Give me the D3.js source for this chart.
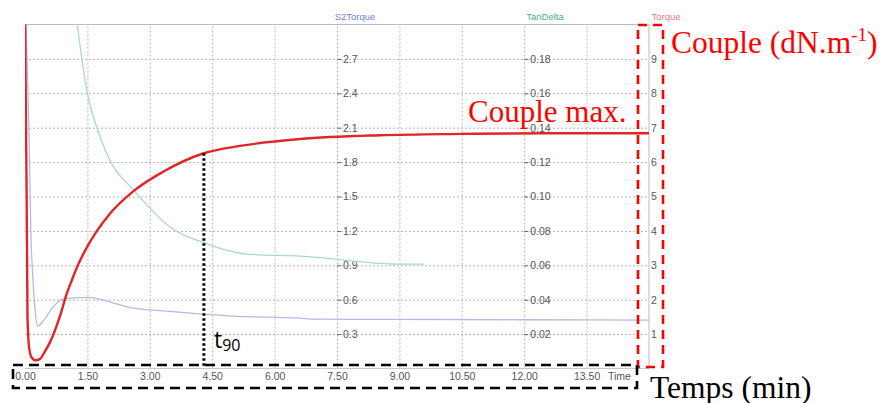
<!DOCTYPE html>
<html><head><meta charset="utf-8">
<script src="https://cdn.jsdelivr.net/npm/d3@7/dist/d3.min.js"></script>
<style>body{margin:0;background:#fff}svg{display:block}</style>
</head><body>
<svg id="c" width="884" height="403"></svg>
<script>
// ---- data ----
const timeTicks = [0, 1.5, 3, 4.5, 6, 7.5, 9, 10.5, 12, 13.5];
const torqueTicks = [1, 2, 3, 4, 5, 6, 7, 8, 9];
const s2Ticks = [0.3, 0.6, 0.9, 1.2, 1.5, 1.8, 2.1, 2.4, 2.7];
const tanTicks = [0.02, 0.04, 0.06, 0.08, 0.10, 0.12, 0.14, 0.16, 0.18];
const torqueT = [0.0, 0.04, 0.06, 0.1, 0.16, 0.25, 0.36, 0.48, 0.6, 0.84, 1.0, 1.13, 1.27, 1.5, 1.73, 2.04, 2.6, 3.32, 4.28, 5.17, 6.61, 8.53, 10.5, 12.5, 15];
const torqueV = [10.3, 5.0, 1.5, 0.6, 0.32, 0.24, 0.28, 0.5, 0.76, 1.52, 2.16, 2.58, 3.0, 3.55, 4.0, 4.5, 5.15, 5.72, 6.25, 6.47, 6.67, 6.78, 6.82, 6.84, 6.84];
const s2T = [0.02, 0.1, 0.14, 0.19, 0.25, 0.31, 0.45, 0.67, 0.91, 1.49, 2.6, 3.4, 4.28, 5.0, 6.6, 7.0, 9, 12, 15];
const s2V = [3.1, 2.0, 1.2, 0.78, 0.48, 0.37, 0.42, 0.535, 0.605, 0.62, 0.527, 0.50, 0.475, 0.457, 0.44, 0.43, 0.428, 0.425, 0.422];
const tanT = [1.2, 1.25, 1.49, 1.8, 2.04, 2.6, 3.56, 4.2, 5.34, 6.6, 9.0, 9.6];
const tanV = [0.21, 0.2008, 0.161, 0.135, 0.121, 0.104, 0.081, 0.074, 0.0665, 0.0653, 0.0607, 0.0607];
const t90 = 4.3;

// ---- layout ----
const svg = d3.select("#c");
const L = 25, R = 649, T = 24.5, B = 368.5;
const x = d3.scaleLinear().domain([0, 15]).range([L, R]);
const yT = d3.scaleLinear().domain([0, 10]).range([B, T]);
const yS = d3.scaleLinear().domain([0, 3]).range([B, T]);
const yD = d3.scaleLinear().domain([0, 0.2]).range([B, T]);

svg.append("rect").attr("width", 884).attr("height", 403).attr("fill", "#fff");
svg.append("clipPath").attr("id", "clip").append("rect")
  .attr("x", L).attr("y", T).attr("width", R - L).attr("height", B - T);

// grid
const gx = svg.append("g").attr("transform", `translate(0,${B})`)
  .call(d3.axisBottom(x).tickValues(timeTicks.slice(1)).tickSize(-(B - T)).tickFormat(""));
const gy = svg.append("g").attr("transform", `translate(${L},0)`)
  .call(d3.axisLeft(yT).tickValues(torqueTicks).tickSize(-(R - L)).tickFormat(""));
[gx, gy].forEach(g => {
  g.select(".domain").remove();
  g.selectAll(".tick line").attr("stroke", "#b4b4b4").attr("stroke-dasharray", "2,2").attr("stroke-width", 1);
});

// border
svg.append("line").attr("x1", L).attr("x2", R).attr("y1", T).attr("y2", T).attr("stroke", "#b9b9d4").attr("stroke-width", 1.2);
svg.append("line").attr("x1", R).attr("x2", R).attr("y1", T).attr("y2", B).attr("stroke", "#c8c8c8").attr("stroke-width", 1.2);
svg.append("line").attr("x1", L).attr("x2", R).attr("y1", B).attr("y2", B).attr("stroke", "#c8c8c8").attr("stroke-width", 1.2);

const tickFont = g => g.selectAll("text").attr("font-family", "Liberation Sans, Arial, sans-serif").attr("font-size", 10.5).attr("fill", "#555");

// x axis labels
const ax = svg.append("g").attr("transform", `translate(0,${B})`)
  .call(d3.axisBottom(x).tickValues(timeTicks).tickSize(0).tickPadding(4).tickFormat(d3.format(".2f")));
ax.select(".domain").remove();
tickFont(ax);
svg.append("text").attr("x", 608).attr("y", 380).text("Time")
  .attr("font-family", "Liberation Sans, Arial, sans-serif").attr("font-size", 10.5).attr("fill", "#555");

// inner axes
function innerAxis(scale, ticks, xpos, fmt) {
  const g = svg.append("g").attr("transform", `translate(${xpos},0)`)
    .call(d3.axisRight(scale).tickValues(ticks).tickSize(4).tickPadding(2).tickFormat(fmt));
  g.select(".domain").remove();
  g.selectAll(".tick line").attr("stroke", "#666");
  tickFont(g);
  return g;
}
innerAxis(yS, s2Ticks, x(7.5), d3.format(".1f"));
innerAxis(yD, tanTicks, x(12), d3.format(".2f"));
const gr = svg.append("g").attr("transform", `translate(${R},0)`)
  .call(d3.axisRight(yT).tickValues(torqueTicks).tickSize(0).tickPadding(2).tickFormat(d3.format("d")));
gr.select(".domain").remove();
tickFont(gr);

// series titles
const titles = [["S2Torque", 355, "#6f82cc"], ["TanDelta", 545, "#4dae88"], ["Torque", 666, "#e07888"]];
titles.forEach(([t, cx, c]) => svg.append("text").attr("x", cx).attr("y", 20).attr("text-anchor", "middle")
  .attr("font-family", "Liberation Sans, Arial, sans-serif").attr("font-size", 9.5).attr("fill", c).text(t));

// curves
const plot = svg.append("g").attr("clip-path", "url(#clip)");
function curve(ts, vs, ys, color, w) {
  const pts = ts.map((t, i) => [t, vs[i]]);
  plot.append("path").datum(pts)
    .attr("d", d3.line().x(d => x(d[0])).y(d => ys(d[1])).curve(d3.curveMonotoneX))
    .attr("fill", "none").attr("stroke", color).attr("stroke-width", w);
}
curve(tanT, tanV, yD, "#a9d9c6", 1.3);
curve(s2T, s2V, yS, "#b3bbe2", 1.3);
curve(torqueT, torqueV, yT, "#e0262b", 2.4);

// t90 marker
const i90 = d3.bisectLeft(torqueT, t90);
const v90 = d3.interpolateNumber(torqueV[i90 - 1], torqueV[i90])((t90 - torqueT[i90 - 1]) / (torqueT[i90] - torqueT[i90 - 1]));
svg.append("line").attr("x1", x(t90)).attr("x2", x(t90)).attr("y1", yT(v90)).attr("y2", 366)
  .attr("stroke", "#000").attr("stroke-width", 3).attr("stroke-dasharray", "2.5,2.5");
const tt = svg.append("text").attr("x", 214).attr("y", 348)
  .attr("font-family", "Open Sans, Noto Sans, sans-serif").attr("font-size", 23).attr("fill", "#000");
tt.append("tspan").text("t");
tt.append("tspan").attr("font-size", 16).attr("dy", 3).text("90");

// annotation boxes
svg.append("rect").attr("x", 638).attr("y", 25).attr("width", 25).attr("height", 342)
  .attr("fill", "none").attr("stroke", "#ff0000").attr("stroke-width", 2.6).attr("stroke-dasharray", "9,6");
svg.append("rect").attr("x", 13).attr("y", 365).attr("width", 624).attr("height", 23)
  .attr("fill", "none").attr("stroke", "#000").attr("stroke-width", 2.6).attr("stroke-dasharray", "10,6");

// annotation texts
const serif = "Liberation Serif, Times New Roman, serif";
const c1 = svg.append("text").attr("x", 671).attr("y", 53).attr("font-family", serif).attr("font-size", 31.5).attr("fill", "#ff0000");
c1.append("tspan").text("Couple (dN.m");
c1.append("tspan").attr("font-size", 19).attr("dy", -12).text("-1");
c1.append("tspan").attr("dy", 12).text(")");
svg.append("text").attr("x", 468).attr("y", 122).attr("font-family", serif).attr("font-size", 31).attr("fill", "#ff0000").text("Couple max.");
svg.append("text").attr("x", 650).attr("y", 398).attr("font-family", serif).attr("font-size", 31.5).attr("fill", "#000").text("Temps (min)");
</script>
</body></html>
